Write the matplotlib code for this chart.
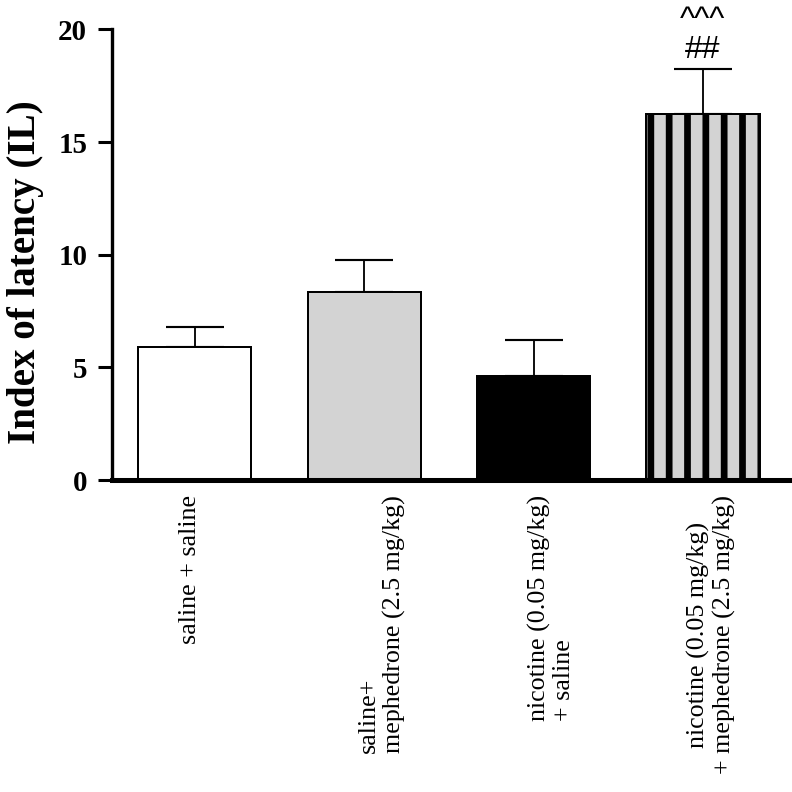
import matplotlib
matplotlib.use("Agg")
import matplotlib.pyplot as plt
import matplotlib.transforms as mtransforms

groups = ["saline + saline",
          "saline+\nmephedrone (2.5 mg/kg)",
          "nicotine (0.05 mg/kg)\n+ saline",
          "nicotine (0.05 mg/kg)\n+ mephedrone (2.5 mg/kg)"]
label_align = ["left", "left", "left", "center"]
means = [5.9, 8.34, 4.61, 16.23]
sems = [0.88, 1.42, 1.6, 2.0]
fills = ["white", "#d3d3d3", "black", "#d3d3d3"]
hatches = [None, None, None, "|"]
signif = ["", "", "", "^^^\n##"]

plt.rcParams["font.family"] = ["Liberation Serif", "DejaVu Serif"]
plt.rcParams["hatch.linewidth"] = 4.4
plt.rcParams["hatch.color"] = "black"

fig = plt.figure(figsize=(7.2, 7.2), dpi=110)
ax = fig.add_axes([0.1414, 0.3939, 0.8586, 0.569])

x = list(range(len(means)))
for i in x:
    ax.bar(i, means[i], width=0.667, color=fills[i], edgecolor="black",
           linewidth=1.3, hatch=hatches[i], zorder=2)
ax.errorbar(x, means, yerr=[[0] * len(sems), sems], fmt="none", ecolor="black",
            elinewidth=1.2, capsize=18.7, capthick=1.4, zorder=1)

# significance marks above the error bars
for i in x:
    if signif[i]:
        ax.annotate(signif[i], (i, means[i] + sems[i]), xytext=(0, 3),
                    textcoords="offset points", ha="center", va="bottom",
                    fontsize=21, family="Liberation Sans", linespacing=1.0,
                    annotation_clip=False)

ax.set_xlim(-0.487, 3.525)
ax.set_ylim(0, 20)
ax.set_yticks([0, 5, 10, 15, 20])
ax.tick_params(axis="y", direction="out", length=9.2, width=2, pad=7, labelsize=19)
for t in ax.get_yticklabels():
    t.set_fontweight("bold")
ax.set_xticks([])

ax.spines["top"].set_visible(False)
ax.spines["right"].set_visible(False)
ax.spines["left"].set_linewidth(2.2)
ax.spines["bottom"].set_linewidth(3.3)
ax.spines["bottom"].set_clip_on(False)

ax.set_ylabel("Index of latency (IL)", fontsize=25.5, fontweight="bold")
ax.yaxis.set_label_coords(-0.1, 0.461)

# group names, rotated, hanging below the axis
trans = mtransforms.blended_transform_factory(ax.transData, ax.transAxes)
nudge = [-16, -6, -6, -16]
for i in x:
    offset = mtransforms.ScaledTranslation(nudge[i] / 110, -15 / 110, fig.dpi_scale_trans)
    ax.text(i, 0, groups[i], transform=trans + offset, rotation=90,
            ha="left", va="top", multialignment=label_align[i],
            fontsize=17, linespacing=1.15)

fig.savefig("out.png", dpi=110)
